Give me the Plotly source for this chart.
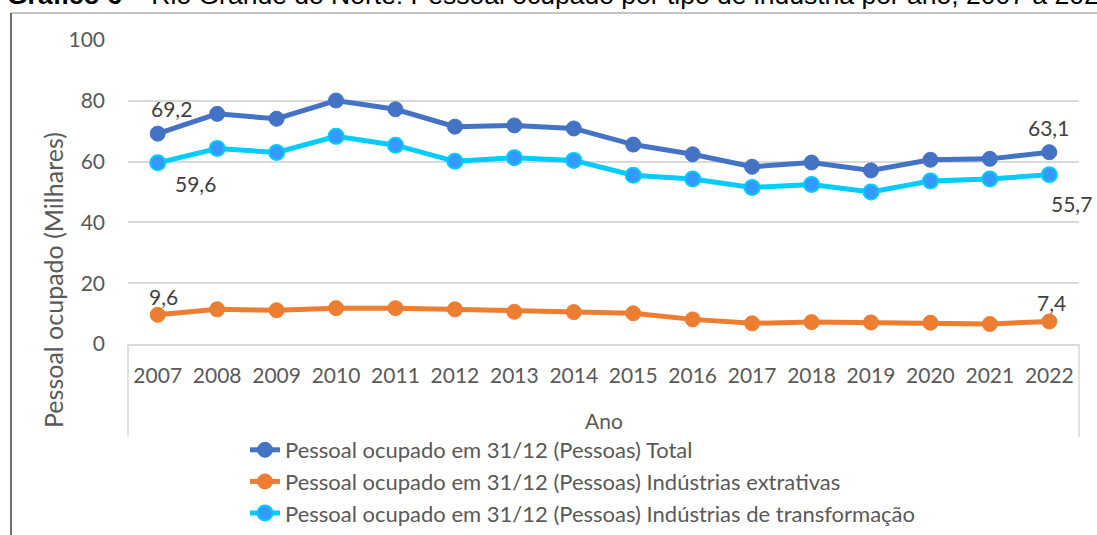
import plotly.graph_objects as go

# ---- data ----
years = ["2007", "2008", "2009", "2010", "2011", "2012", "2013", "2014",
         "2015", "2016", "2017", "2018", "2019", "2020", "2021", "2022"]
total = [69.2, 75.7, 74.1, 80.1, 77.2, 71.5, 71.9, 70.9,
         65.6, 62.4, 58.3, 59.7, 57.1, 60.6, 60.9, 63.1]
extrativas = [9.6, 11.4, 11.1, 11.8, 11.8, 11.4, 10.6, 10.5,
              10.1, 8.1, 6.8, 7.2, 7.1, 7.0, 6.6, 7.4]
transformacao = [59.6, 64.3, 63.0, 68.3, 65.4, 60.1, 61.3, 60.4,
                 55.5, 54.3, 51.5, 52.5, 50.0, 53.6, 54.3, 55.7]
series_names = [
    "Pessoal ocupado em 31/12 (Pessoas) Total",
    "Pessoal ocupado em 31/12 (Pessoas) Indústrias extrativas",
    "Pessoal ocupado em 31/12 (Pessoas) Indústrias de transformação",
]
y_ticks = [0, 20, 40, 60, 80, 100]
title_bold = "Gráfico 6"
title_rest = " – Rio Grande do Norte: Pessoal ocupado por tipo de indústria por ano, 2007 a 2022"
y_title = "Pessoal ocupado (Milhares)"
x_title = "Ano"

FONT = "Lato"
GRAY = "#595959"

W, H = 1097, 535
L, R, T, B = 128, 18, 40, 191
PW, PH = W - L - R, H - T - B


def px_x(px):
    return (px - L) / PW


def px_y(py):
    return (H - B - py) / PH


fig = go.Figure()
fig.add_trace(go.Scatter(
    x=years, y=total, name=series_names[0], mode="lines+markers",
    line=dict(color="#4472C4", width=5),
    marker=dict(size=15, color="#4472C4", line=dict(color="#4472C4", width=1)),
))
fig.add_trace(go.Scatter(
    x=years, y=extrativas, name=series_names[1], mode="lines+markers",
    line=dict(color="#ED7D31", width=5),
    marker=dict(size=15, color="#ED7D31", line=dict(color="#ED7D31", width=1)),
))
fig.add_trace(go.Scatter(
    x=years, y=transformacao, name=series_names[2], mode="lines+markers",
    line=dict(color="#00CCFF", width=5),
    marker=dict(size=15, color="#3399FF", line=dict(color="#00CCFF", width=2)),
))


def lab(v):
    return f"{v:.1f}".replace(".", ",")


first, last = 0, len(years) - 1
label_specs = [
    (total, first, 14, 25), (transformacao, first, 38, -21), (extrativas, first, 6, 18),
    (total, last, -1, 25), (transformacao, last, 22, -29), (extrativas, last, 2, 19),
]
for arr, idx, xs, ys in label_specs:
    fig.add_annotation(x=idx, y=arr[idx], text=lab(arr[idx]),
                       showarrow=False, xshift=xs, yshift=ys,
                       font=dict(family=FONT, size=21, color="#404040"))

# title (partly cut at the top as in the reference)
fig.add_annotation(xref="paper", yref="paper", x=px_x(5), y=px_y(12.5),
                   xanchor="left", yanchor="bottom", showarrow=False,
                   text=f"<b>{title_bold}</b>{title_rest}",
                   font=dict(family="Liberation Sans, Arial", size=26.5, color="black"))

# axis titles
fig.add_annotation(xref="paper", yref="paper", x=px_x(53), y=px_y(280),
                   xanchor="center", yanchor="middle", showarrow=False,
                   textangle=-90, text=y_title,
                   font=dict(family=FONT, size=25, color=GRAY))
fig.add_annotation(xref="paper", yref="paper", x=0.5, y=px_y(420),
                   xanchor="center", yanchor="middle", showarrow=False,
                   text=x_title, font=dict(family=FONT, size=21, color=GRAY))

# frame lines
shapes = [
    dict(type="line", xref="paper", yref="paper", x0=0, x1=0, y0=0, y1=px_y(437),
         line=dict(color="#D9D9D9", width=1.5)),
    dict(type="line", xref="paper", yref="paper", x0=1, x1=1, y0=0, y1=px_y(437),
         line=dict(color="#D9D9D9", width=1.5)),
    dict(type="line", xref="paper", yref="paper", x0=px_x(11), x1=px_x(1100),
         y0=px_y(13), y1=px_y(13), line=dict(color="#B0B0B0", width=1.5)),
    dict(type="line", xref="paper", yref="paper", x0=px_x(11), x1=px_x(11),
         y0=px_y(13), y1=px_y(540), line=dict(color="#404040", width=1.5)),
]

fig.update_layout(
    width=W, height=H,
    margin=dict(l=L, r=R, t=T, b=B, autoexpand=False),
    paper_bgcolor="white", plot_bgcolor="white",
    font=dict(family=FONT, size=21, color=GRAY),
    showlegend=True,
    legend=dict(x=px_x(245), y=px_y(429), xanchor="left", yanchor="top",
                font=dict(family=FONT, size=22, color=GRAY),
                bgcolor="rgba(0,0,0,0)", traceorder="normal"),
    shapes=shapes,
    xaxis=dict(type="category", range=[-0.5, len(years) - 0.5], showgrid=False,
               showline=True, linecolor="#D9D9D9", linewidth=1.5, ticks="",
               ticklabelstandoff=12,
               tickfont=dict(family=FONT, size=21, color=GRAY)),
    yaxis=dict(range=[0, 100], tickvals=y_ticks, showgrid=True,
               gridcolor="#D9D9D9", gridwidth=1.5, zeroline=False,
               showline=False, ticks="", ticklabelstandoff=22,
               tickfont=dict(family=FONT, size=21, color=GRAY)),
)

fig.write_html(
    "out.html",
    config={"displayModeBar": False},
    post_script="document.body.style.margin='0';document.body.style.overflow='hidden';",
)
